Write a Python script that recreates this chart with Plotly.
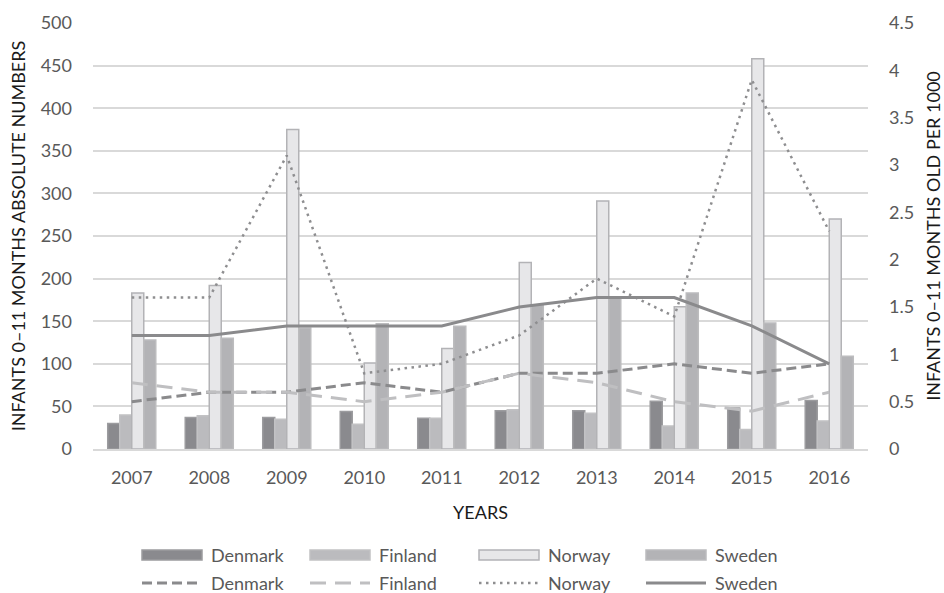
import plotly.graph_objects as go

years = ["2007", "2008", "2009", "2010", "2011", "2012", "2013", "2014", "2015", "2016"]
countries = ["Denmark", "Finland", "Norway", "Sweden"]

# Absolute numbers (bars, left axis)
denmark_abs = [30, 37, 37, 44, 36, 45, 45, 56, 48, 57]
finland_abs = [40, 39, 35, 29, 36, 46, 42, 27, 23, 33]
norway_abs = [183, 192, 375, 101, 118, 219, 291, 167, 458, 270]
sweden_abs = [128, 130, 142, 147, 144, 169, 178, 183, 148, 109]

# Per 1000 (lines, right axis)
denmark_rate = [0.5, 0.6, 0.6, 0.7, 0.6, 0.8, 0.8, 0.9, 0.8, 0.9]
finland_rate = [0.7, 0.6, 0.6, 0.5, 0.6, 0.8, 0.7, 0.5, 0.4, 0.6]
norway_rate = [1.6, 1.6, 3.1, 0.8, 0.9, 1.2, 1.8, 1.4, 3.9, 2.3]
sweden_rate = [1.2, 1.2, 1.3, 1.3, 1.3, 1.5, 1.6, 1.6, 1.3, 0.9]

FONT = "Lato"
TICK = "#595959"
TITLE = "#1a1a1a"
W, H = 944, 593
ML, MR, MT, MB = 93, 76, 23, 144
PW, PH = W - ML - MR, H - MT - MB

bar_fill = ["#8a8a8e", "#bbbbbe", "#e7e7e9", "#b3b3b6"]
bar_edge = ["#9c9c9f", "#c2c2c4", "#b3b3b6", "#bcbcbe"]
line_col = ["#8a8a8c", "#bfbfc1", "#8e8e90", "#8a8a8c"]
line_dash = ["10px,5px", "16px,9px", "2.5px,4.5px", "solid"]
line_w = [3, 3, 2.5, 3]

fig = go.Figure()
for name, vals, col, ec in zip(countries, [denmark_abs, finland_abs, norway_abs, sweden_abs], bar_fill, bar_edge):
    fig.add_trace(go.Bar(x=years, y=vals, name=name, showlegend=False,
                         marker=dict(color=col, line=dict(color=ec, width=1.5))))

for name, vals, col, dash, w in zip(countries, [denmark_rate, finland_rate, norway_rate, sweden_rate],
                                    line_col, line_dash, line_w):
    fig.add_trace(go.Scatter(x=years, y=vals, name=name, mode="lines", yaxis="y2", showlegend=False,
                             line=dict(color=col, dash=dash, width=w)))

# Custom legend (two rows, four columns) drawn below the plot
def px_x(px):
    return (px - ML) / PW

def px_y(py):
    return (MT + PH - py) / PH

col_x = [142, 310, 479, 646]
row1_y, row2_y = 555, 583
sw = 60
shapes, annots = [], []
for i, name in enumerate(countries):
    x0 = col_x[i]
    shapes.append(dict(type="rect", xref="paper", yref="paper",
                       x0=px_x(x0), x1=px_x(x0 + sw), y0=px_y(row1_y + 5), y1=px_y(row1_y - 5),
                       fillcolor=bar_fill[i], line=dict(color=bar_edge[i], width=1.5), layer="above"))
    shapes.append(dict(type="line", xref="paper", yref="paper",
                       x0=px_x(x0), x1=px_x(x0 + sw), y0=px_y(row2_y), y1=px_y(row2_y),
                       line=dict(color=line_col[i], width=line_w[i], dash=line_dash[i])))
    for ry in (row1_y, row2_y):
        annots.append(dict(text=name, xref="paper", yref="paper", x=px_x(x0 + sw + 7), y=px_y(ry),
                           xanchor="left", yanchor="middle", showarrow=False,
                           font=dict(family=FONT, size=18, color=TICK)))

fig.update_layout(
    width=W, height=H,
    margin=dict(l=ML, r=MR, t=MT, b=MB),
    plot_bgcolor="white", paper_bgcolor="white",
    font=dict(family=FONT, size=18, color=TICK),
    barmode="group", bargap=0.38, bargroupgap=0.0,
    showlegend=False,
    xaxis=dict(type="category", showgrid=False, showline=True, linecolor="#d9d9d9", linewidth=1.5,
               ticks="", ticklabelstandoff=12, tickfont=dict(family=FONT, size=18, color=TICK), automargin=False,
               title=dict(text="YEARS", font=dict(family=FONT, size=18, color=TITLE), standoff=19)),
    yaxis=dict(range=[0, 500], dtick=50, showgrid=True, gridcolor="#d9d9d9", gridwidth=1.5,
               zeroline=False, ticks="", ticklabelstandoff=20, automargin=False,
               tickfont=dict(family=FONT, size=18, color=TICK),
               title=dict(text="INFANTS 0–11 MONTHS ABSOLUTE NUMBERS",
                          font=dict(family=FONT, size=18, color=TITLE), standoff=10)),
    yaxis2=dict(range=[0, 4.5], dtick=0.5, overlaying="y", side="right", showgrid=False, zeroline=False,
                ticks="", ticklabelstandoff=20, automargin=False,
                tickfont=dict(family=FONT, size=18, color=TICK),
                title=dict(text="INFANTS 0–11 MONTHS OLD PER 1000",
                           font=dict(family=FONT, size=18, color=TITLE), standoff=15)),
    shapes=shapes,
    annotations=annots,
)

fig.write_html("out.html")
